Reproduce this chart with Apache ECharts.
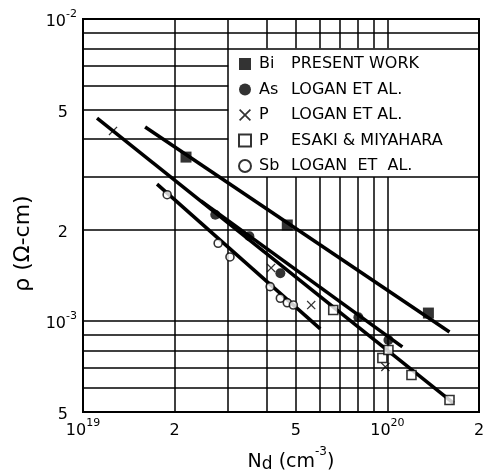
<!DOCTYPE html>
<html>
<head>
<meta charset="utf-8">
<script src="https://cdn.jsdelivr.net/npm/echarts@6/dist/echarts.min.js"></script>
<style>
  html, body { margin: 0; background: #fff; }
  #chart { width: 485px; height: 472px; }
</style>
</head>
<body>
<div id="chart"></div>
<script>
// measured points, Nd in cm^-3, rho in ohm-cm
const biN = [2.18e19, 4.69e19, 1.364e20];
const biRho = [3.49e-3, 2.08e-3, 1.063e-3];
const asN = [2.72e19, 3.52e19, 4.45e19, 8.03e19, 1.008e20];
const asRho = [2.25e-3, 1.91e-3, 1.44e-3, 1.03e-3, 8.66e-4];
const pLoganN = [1.255e19, 4.15e19, 5.62e19, 9.85e19];
const pLoganRho = [4.26e-3, 1.5e-3, 1.13e-3, 7.05e-4];
const pEsakiN = [6.64e19, 9.63e19, 1.008e20, 1.2e20, 1.6e20];
const pEsakiRho = [1.088e-3, 7.55e-4, 8.02e-4, 6.63e-4, 5.48e-4];
const sbN = [1.89e19, 2.78e19, 3.04e19, 4.12e19, 4.45e19, 4.69e19, 4.91e19];
const sbRho = [2.62e-3, 1.81e-3, 1.63e-3, 1.3e-3, 1.19e-3, 1.15e-3, 1.13e-3];

// drawn-in straight lines, two ends each
const biFitN = [1.6e19, 1.6e20];
const biFitRho = [4.39e-3, 9.2e-4];
const asFitN = [2.44e19, 1.12e20];
const asFitRho = [2.5e-3, 8.21e-4];
const pFitN = [1.112e19, 1.649e20];
const pFitRho = [4.7e-3, 5.35e-4];
const sbFitN = [1.751e19, 6.02e19];
const sbFitRho = [2.84e-3, 9.42e-4];

// legend
const elements = ['Bi', 'As', 'P', 'P', 'Sb'];
const sources = ['PRESENT WORK', 'LOGAN ET AL.', 'LOGAN ET AL.', 'ESAKI & MIYAHARA', 'LOGAN  ET  AL.'];

// axes
const xMin = 1e19, xMax = 2e20, yMin = 5e-4, yMax = 1e-2;
const xTicks = [1e19, 2e19, 5e19, 1e20, 2e20];
const xTickText = ['{b|10}{s|19}', '{b|2}', '{b|5}', '{b|10}{s|20}', '{b|2}'];
const yTicks = [5e-4, 1e-3, 2e-3, 5e-3, 1e-2];
const yTickText = ['{b|5}{p|}', '{b|10}{s|-3}', '{b|2}{p|}', '{b|5}{p|}', '{b|10}{s|-2}'];

// log paper lines; the "split" ones stop at the legend box
const xGridFull = [2e19, 3e19];
const xGridSplit = [4e19, 5e19, 6e19, 7e19, 8e19, 9e19, 1e20];
const yGridFull = [6e-4, 7e-4, 8e-4, 9e-4, 1e-3, 2e-3, 3e-3, 8e-3, 9e-3];
const yGridSplit = [4e-3, 5e-3, 6e-3, 7e-3];
const boxX = 3e19, boxYLow = 3e-3, boxYHigh = 8e-3;

const L = Math.log10;
const pts = (xs, ys) => xs.map((x, i) => [L(x), L(ys[i])]);
const seg = (x1, y1, x2, y2) => [{ coord: [L(x1), L(y1)] }, { coord: [L(x2), L(y2)] }];
const nearest = (ticks, texts) => v => {
  let best = 0;
  ticks.forEach((t, i) => { if (Math.abs(L(t) - v) < Math.abs(L(ticks[best]) - v)) best = i; });
  return texts[best];
};

const gridLines = [
  ...xGridFull.map(x => seg(x, yMin, x, yMax)),
  ...xGridSplit.map(x => seg(x, yMin, x, boxYLow)),
  ...xGridSplit.map(x => seg(x, boxYHigh, x, yMax)),
  ...yGridFull.map(y => seg(xMin, y, xMax, y)),
  ...yGridSplit.map(y => seg(xMin, y, boxX, y))
];

const font = 'DejaVu Sans';
const tickRich = {
  b: { fontFamily: font, fontSize: 16, color: '#000', padding: [5, 0, 0, 0] },
  s: { fontFamily: font, fontSize: 11, color: '#000', verticalAlign: 'top' },
  p: { width: 9 }
};

const fit = (xs, ys) => ({
  type: 'line',
  data: pts(xs, ys),
  showSymbol: false,
  silent: true,
  lineStyle: { color: '#000', width: 3.5 },
  z: 3
});

const xShape = 'path://M0,1L1,0L5,4L9,0L10,1L6,5L10,9L9,10L5,6L1,10L0,9L4,5Z';

const scatter = (name, xs, ys, symbol, size, extra) => ({
  type: 'scatter',
  name,
  data: pts(xs, ys),
  symbol,
  symbolSize: size,
  itemStyle: Object.assign({ color: '#000' }, extra || {}),
  z: 5
});

const names = elements.map((e, i) => e + ' ' + sources[i]);

const chart = echarts.init(document.getElementById('chart'), null, { renderer: 'canvas' });
chart.setOption({
  animation: false,
  backgroundColor: '#fff',
  grid: {
    left: 83, right: 6, top: 19, bottom: 60,
    outerBoundsMode: 'none',
    show: true, borderColor: '#000', borderWidth: 2, backgroundColor: 'transparent'
  },
  xAxis: {
    type: 'value',
    min: L(xMin), max: L(xMax),
    axisLine: { show: false }, axisTick: { show: false }, splitLine: { show: false },
    axisLabel: {
      customValues: xTicks.map(L),
      formatter: nearest(xTicks, xTickText),
      margin: 6,
      rich: tickRich
    },
    name: '{n|N}{d|d}{n| (cm}{s|-3}{n|)}',
    nameLocation: 'middle',
    nameGap: 34,
    nameTextStyle: {
      padding: [0, 0, 0, 20],
      rich: {
        n: { fontFamily: font, fontSize: 19, color: '#000', padding: [6, 0, 0, 0] },
        d: { fontFamily: font, fontSize: 17, color: '#000', padding: [10, 0, 0, 0] },
        s: { fontFamily: font, fontSize: 12, color: '#000', verticalAlign: 'top' }
      }
    }
  },
  yAxis: {
    type: 'value',
    min: L(yMin), max: L(yMax),
    axisLine: { show: false }, axisTick: { show: false }, splitLine: { show: false },
    axisLabel: {
      customValues: yTicks.map(L),
      formatter: nearest(yTicks, yTickText),
      margin: 6,
      rich: tickRich
    },
    name: 'ρ (Ω-cm)',
    nameLocation: 'middle',
    nameGap: 46,
    nameTextStyle: { fontFamily: font, fontSize: 22, color: '#000', padding: [0, 56, 0, 0] }
  },
  legend: {
    data: names,
    orient: 'vertical',
    left: 238,
    top: 56,
    itemWidth: 12,
    itemHeight: 12,
    itemGap: 9.5,
    padding: 0,
    formatter: n => {
      const i = names.indexOf(n);
      return '{e|' + elements[i] + '}{r|' + sources[i] + '}';
    },
    textStyle: {
      rich: {
        e: { fontFamily: font, fontSize: 16, color: '#000', width: 32, padding: [0, 0, 0, 3], lineHeight: 14 },
        r: { fontFamily: font, fontSize: 16, color: '#000', lineHeight: 14 }
      }
    }
  },
  series: [
    {
      type: 'line',
      data: [],
      silent: true,
      z: 1,
      markLine: {
        silent: true,
        symbol: ['none', 'none'],
        label: { show: false },
        lineStyle: { color: '#000', width: 1.5, type: 'solid' },
        emphasis: { disabled: true },
        data: gridLines
      }
    },
    fit(biFitN, biFitRho),
    fit(asFitN, asFitRho),
    fit(pFitN, pFitRho),
    fit(sbFitN, sbFitRho),
    scatter(names[0], biN, biRho, 'rect', 11),
    scatter(names[1], asN, asRho, 'circle', 10),
    scatter(names[2], pLoganN, pLoganRho, xShape, 9),
    scatter(names[3], pEsakiN, pEsakiRho, 'rect', 9, { color: '#fff', borderColor: '#000', borderWidth: 1.6 }),
    scatter(names[4], sbN, sbRho, 'circle', 8, { color: '#fff', borderColor: '#000', borderWidth: 1.6 })
  ]
});
</script>
</body>
</html>
